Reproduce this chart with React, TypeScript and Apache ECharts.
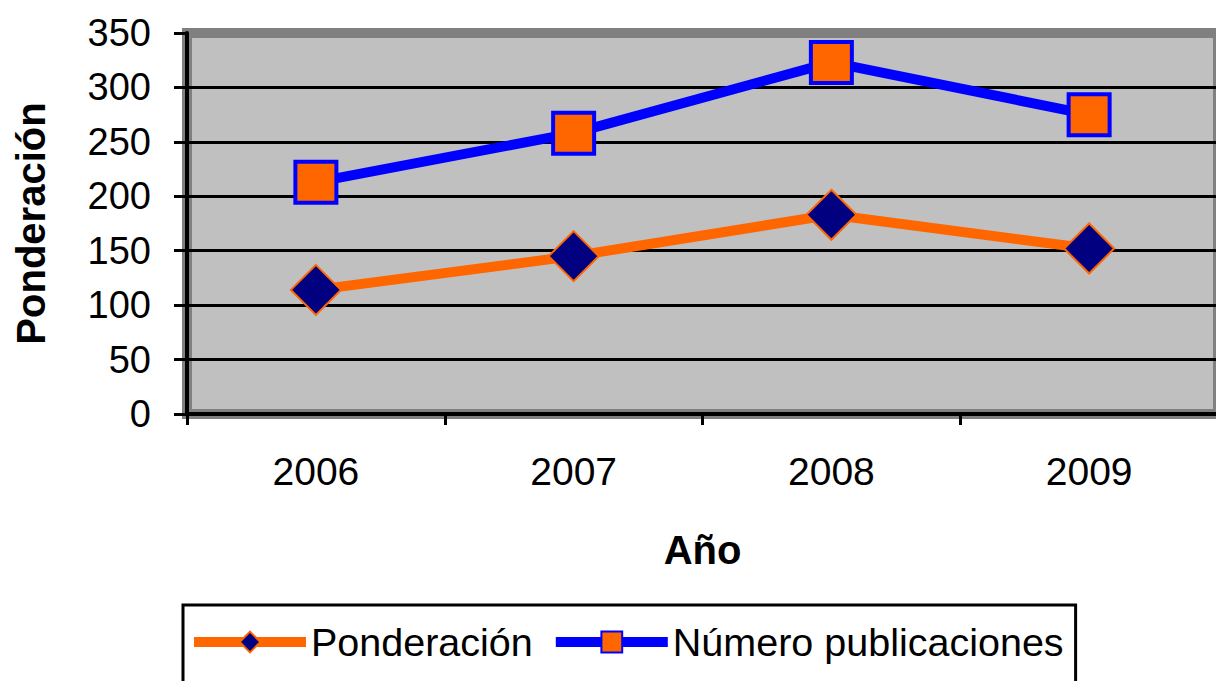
import React, { useEffect, useRef } from "react";
import * as echarts from "echarts";

const categories = ["2006", "2007", "2008", "2009"];
const ponderacion = [114, 145, 183, 152];
const publicaciones = [213, 258, 323, 275];
const yTicks = { min: 0, max: 350, interval: 50 };

export default function App() {
  const ref = useRef<HTMLDivElement>(null);
  useEffect(() => {
    if (!ref.current) return;
    const chart = echarts.init(ref.current, null, { renderer: "svg" });
    const font = "'Liberation Sans', Arial, sans-serif";
    chart.setOption({
      animation: false,
      backgroundColor: "#ffffff",
      grid: {
        left: 187,
        top: 33,
        width: 1031,
        bottom: 267,
        containLabel: false,
        outerBoundsMode: "none",
        show: true,
        backgroundColor: "#C0C0C0",
        borderColor: "#808080",
        borderWidth: 10,
      },
      xAxis: {
        type: "category",
        data: categories,
        boundaryGap: true,
        name: "Año",
        nameLocation: "middle",
        nameGap: 116,
        nameTextStyle: { fontFamily: font, fontSize: 40, fontWeight: "bold", color: "#000" },
        axisLine: { show: true, lineStyle: { color: "#000", width: 4 } },
        axisTick: { show: true, alignWithLabel: false, length: 11, lineStyle: { color: "#000", width: 3 } },
        axisLabel: { fontFamily: font, fontSize: 39, color: "#000", margin: 38 },
        splitLine: { show: false },
      },
      yAxis: {
        type: "value",
        min: yTicks.min,
        max: yTicks.max,
        interval: yTicks.interval,
        name: "Ponderación",
        nameLocation: "middle",
        nameGap: 136,
        nameRotate: 90,
        nameTextStyle: { fontFamily: font, fontSize: 40, fontWeight: "bold", color: "#000" },
        axisLine: { show: true, lineStyle: { color: "#000", width: 4 } },
        axisTick: { show: true, length: 13, lineStyle: { color: "#000", width: 3 } },
        axisLabel: { fontFamily: font, fontSize: 38, color: "#000", margin: 36 },
        splitLine: { show: true, showMaxLine: false, showMinLine: false, lineStyle: { color: "#000", width: 3 } },
      },
      legend: {
        left: 183,
        top: 605,
        orient: "horizontal",
        borderColor: "#000",
        borderWidth: 3,
        padding: [17, 12, 40, 6],
        itemGap: 18,
        itemWidth: 112,
        itemHeight: 26,
        lineStyle: { width: 10 },
        textStyle: { fontFamily: font, fontSize: 39.5, color: "#000" },
        data: ["Ponderación", "Número publicaciones"],
      },
      series: [
        {
          name: "Ponderación",
          type: "line",
          data: ponderacion,
          symbol: "diamond",
          symbolSize: [50, 50],
          lineStyle: { color: "#FF6600", width: 10 },
          itemStyle: { color: "#000080", borderColor: "#FF6600", borderWidth: 2 },
          z: 3,
        },
        {
          name: "Número publicaciones",
          type: "line",
          data: publicaciones,
          symbol: "rect",
          symbolSize: [41, 41],
          lineStyle: { color: "#0000FF", width: 10 },
          itemStyle: { color: "#FF6600", borderColor: "#0000FF", borderWidth: 4 },
          z: 3,
        },
      ],
    });
    return () => chart.dispose();
  }, []);
  return <div ref={ref} style={{ width: 1216, height: 681, position: "absolute", left: 0, top: 0 }} />;
}
